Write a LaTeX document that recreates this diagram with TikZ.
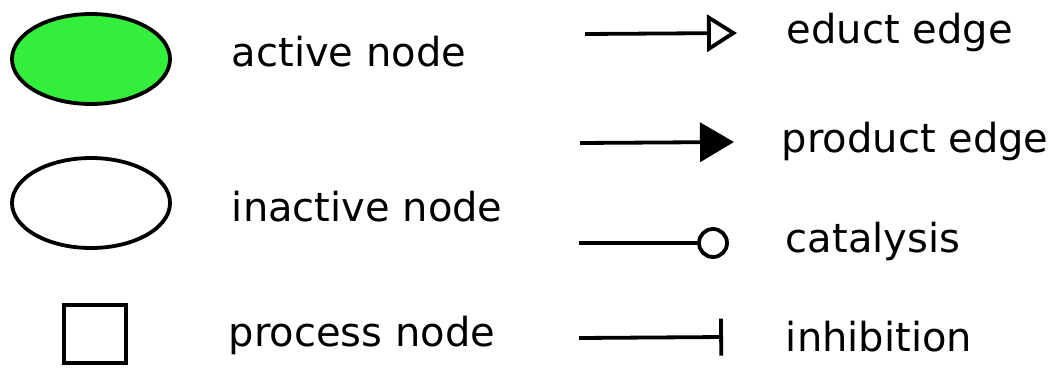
\documentclass[tikz,border=0pt]{standalone}
\usepackage{fontspec}
\setmainfont{DejaVu Sans}
\usetikzlibrary{shapes.geometric,arrows.meta}
\definecolor{activegreen}{RGB}{51,238,59}
\begin{document}
\begin{tikzpicture}[x=1pt,y=-1pt,
  line width=3.8pt,
  legendtext/.style={anchor=base west,inner sep=0pt,font=\fontsize{40}{48}\selectfont},
  nodeshape/.style={draw,ellipse,minimum width=158pt,minimum height=90pt,inner sep=0pt},
  edgeline/.style={line width=3.8pt},
  ]
\useasboundingbox (0,0) rectangle (1056,370);

% node kinds
\node[nodeshape,fill=activegreen] (act) at (91,59) {};
\node[nodeshape,fill=white] (inact) at (91,203) {};
\node[draw,minimum width=62pt,minimum height=58pt,inner sep=0pt] (proc) at (95,334) {};

\node[legendtext] (tact) at (230,66) {active node};
\node[legendtext] (tinact) at (230,221) {inactive node};
\node[legendtext] (tproc) at (227,346) {process node};

% edge kinds
\coordinate (e1) at (585,34);
\coordinate (e2) at (737,33);
\draw[edgeline,-{Triangle[open,length=30pt,width=37pt,line width=3.8pt]}] (e1) -- (e2);

\coordinate (p1) at (580,143);
\coordinate (p2) at (734,142);
\draw[edgeline,-{Triangle[length=34pt,width=39pt]}] (p1) -- (p2);

\coordinate (c1) at (579,243);
\node[draw,circle,minimum size=28pt,inner sep=0pt] (cat) at (713,243) {};
\draw[edgeline] (c1) -- (cat.west);

\coordinate (i1) at (579,338);
\coordinate (i2) at (723,337);
\draw[edgeline,-{Bar[width=37pt,line width=3.8pt]}] (i1) -- (i2);

\node[legendtext] (teduct) at (785,43) {educt edge};
\node[legendtext] (tprod) at (780,152) {product edge};
\node[legendtext] (tcat) at (784,252) {catalysis};
\node[legendtext] (tinh) at (784,351) {inhibition};
\end{tikzpicture}
\end{document}
